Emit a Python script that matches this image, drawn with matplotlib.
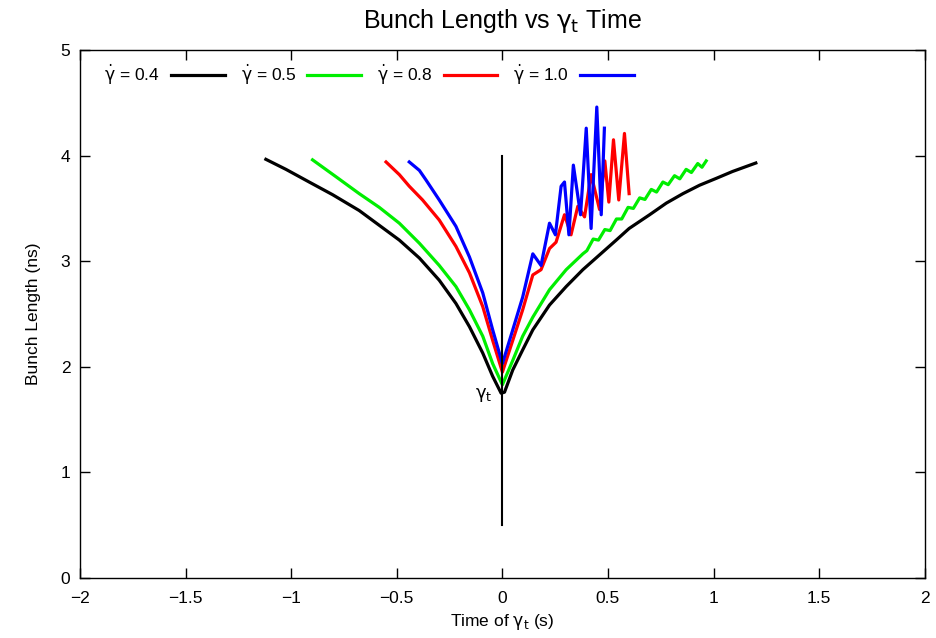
import matplotlib
matplotlib.use("Agg")
import matplotlib.pyplot as plt
from matplotlib.ticker import FuncFormatter

plt.rcParams['font.family'] = ['Liberation Sans', 'DejaVu Sans']
plt.rcParams['mathtext.fontset'] = 'custom'
plt.rcParams['mathtext.rm'] = 'DejaVu Sans'
plt.rcParams['mathtext.it'] = 'DejaVu Sans'

# gamma-dot = 0.4
black_t = [-1.12, -1.025, -0.915, -0.804, -0.678, -0.583, -0.488, -0.393, -0.299, -0.22,
           -0.156, -0.093, -0.046, -0.006, 0.01, 0.049, 0.096, 0.144, 0.223, 0.302,
           0.381, 0.46, 0.539, 0.60, 0.697, 0.776, 0.855, 0.934, 1.013, 1.09,
           1.20]
black_L = [3.965, 3.87, 3.75, 3.63, 3.48, 3.34, 3.20, 3.03, 2.82, 2.60,
           2.38, 2.13, 1.91, 1.75, 1.76, 1.97, 2.16, 2.35, 2.585, 2.76,
           2.92, 3.06, 3.20, 3.31, 3.44, 3.55, 3.64, 3.72, 3.785, 3.85,
           3.93]

# gamma-dot = 0.5
green_t = [-0.899, -0.788, -0.678, -0.583, -0.488, -0.393, -0.299, -0.22, -0.156, -0.093,
           -0.046, 0.0, 0.049, 0.096, 0.144, 0.223, 0.302, 0.381, 0.40, 0.43,
           0.455, 0.485, 0.51, 0.54, 0.565, 0.595, 0.62, 0.65, 0.675, 0.705,
           0.73, 0.76, 0.785, 0.815, 0.84, 0.87, 0.895, 0.925, 0.945, 0.965]
green_L = [3.96, 3.80, 3.64, 3.51, 3.36, 3.17, 2.96, 2.76, 2.54, 2.29,
           2.03, 1.83, 2.06, 2.29, 2.47, 2.73, 2.92, 3.07, 3.10, 3.21,
           3.20, 3.30, 3.29, 3.40, 3.40, 3.51, 3.50, 3.60, 3.585, 3.68,
           3.655, 3.75, 3.725, 3.81, 3.78, 3.87, 3.84, 3.925, 3.89, 3.95]

# gamma-dot = 0.8
red_t = [-0.551, -0.488, -0.441, -0.378, -0.299, -0.22, -0.156, -0.093, -0.046, 0.0,
         0.049, 0.096, 0.144, 0.183, 0.223, 0.254, 0.294, 0.325, 0.357, 0.389,
         0.42, 0.46, 0.485, 0.504, 0.526, 0.551, 0.578, 0.60]
red_L = [3.94, 3.82, 3.71, 3.58, 3.39, 3.14, 2.89, 2.57, 2.25, 1.95,
         2.25, 2.54, 2.87, 2.92, 3.12, 3.18, 3.44, 3.25, 3.52, 3.42,
         3.82, 3.49, 3.95, 3.56, 4.15, 3.58, 4.21, 3.64]

# gamma-dot = 1.0
blue_t = [-0.441, -0.393, -0.362, -0.299, -0.22, -0.156, -0.093, -0.046, 0.0, 0.049,
          0.096, 0.144, 0.183, 0.223, 0.251, 0.278, 0.294, 0.315, 0.336, 0.37,
          0.397, 0.42, 0.447, 0.468, 0.483]
blue_L = [3.94, 3.86, 3.77, 3.58, 3.33, 3.04, 2.70, 2.35, 2.03, 2.35,
          2.66, 3.07, 2.96, 3.36, 3.25, 3.71, 3.75, 3.25, 3.91, 3.44,
          4.26, 3.31, 4.46, 3.44, 4.26]

# transition marker
marker_t = [0.0, 0.0]
marker_L = [0.5, 4.0]

labels = ['0.4', '0.5', '0.8', '1.0']
colors = ['black', '#00ee00', 'red', 'blue']

fig = plt.figure(figsize=(9.36, 6.38), dpi=100)
ax = fig.add_axes([0.0855, 0.094, 0.9025, 0.8276])

series = [(black_t, black_L), (green_t, green_L), (red_t, red_L), (blue_t, blue_L)]
handles = []
for (t, L), c, lab in zip(series, colors, labels):
    h, = ax.plot(t, L, color=c, lw=2.3, label=r'$\dot{\gamma}$ = ' + lab)
    handles.append(h)

ax.plot(marker_t, marker_L, color='black', lw=1.5)
ax.text(-0.09, 1.73, r'$\gamma_t$', ha='center', va='center', fontsize=13)

ax.set_xlim(-2, 2)
ax.set_ylim(0, 5)
ax.set_xticks([-2, -1.5, -1, -0.5, 0, 0.5, 1, 1.5, 2])
ax.set_yticks([0, 1, 2, 3, 4, 5])
ax.xaxis.set_major_formatter(FuncFormatter(lambda v, p: ('%g' % v).replace('-', '\u2212')))
ax.tick_params(direction='in', top=True, right=True, length=7, width=1, labelsize=12.5)
ax.tick_params(axis='x', pad=9)
ax.tick_params(axis='y', pad=7)
for s in ax.spines.values():
    s.set_linewidth(1)

ax.set_title(r'Bunch Length vs $\gamma_t$ Time', fontsize=18, pad=16)
ax.set_xlabel(r'Time of $\gamma_t$ (s)', fontsize=12.5, labelpad=5)
ax.set_ylabel('Bunch Length (ns)', fontsize=12.5, labelpad=14)

ax.legend(handles=handles, loc='upper left', ncol=4, frameon=False, markerfirst=False,
          fontsize=12.5, handlelength=3.1, columnspacing=0.9, handletextpad=0.65,
          bbox_to_anchor=(0.01, 1.005))

fig.savefig('out.png', dpi=100)
